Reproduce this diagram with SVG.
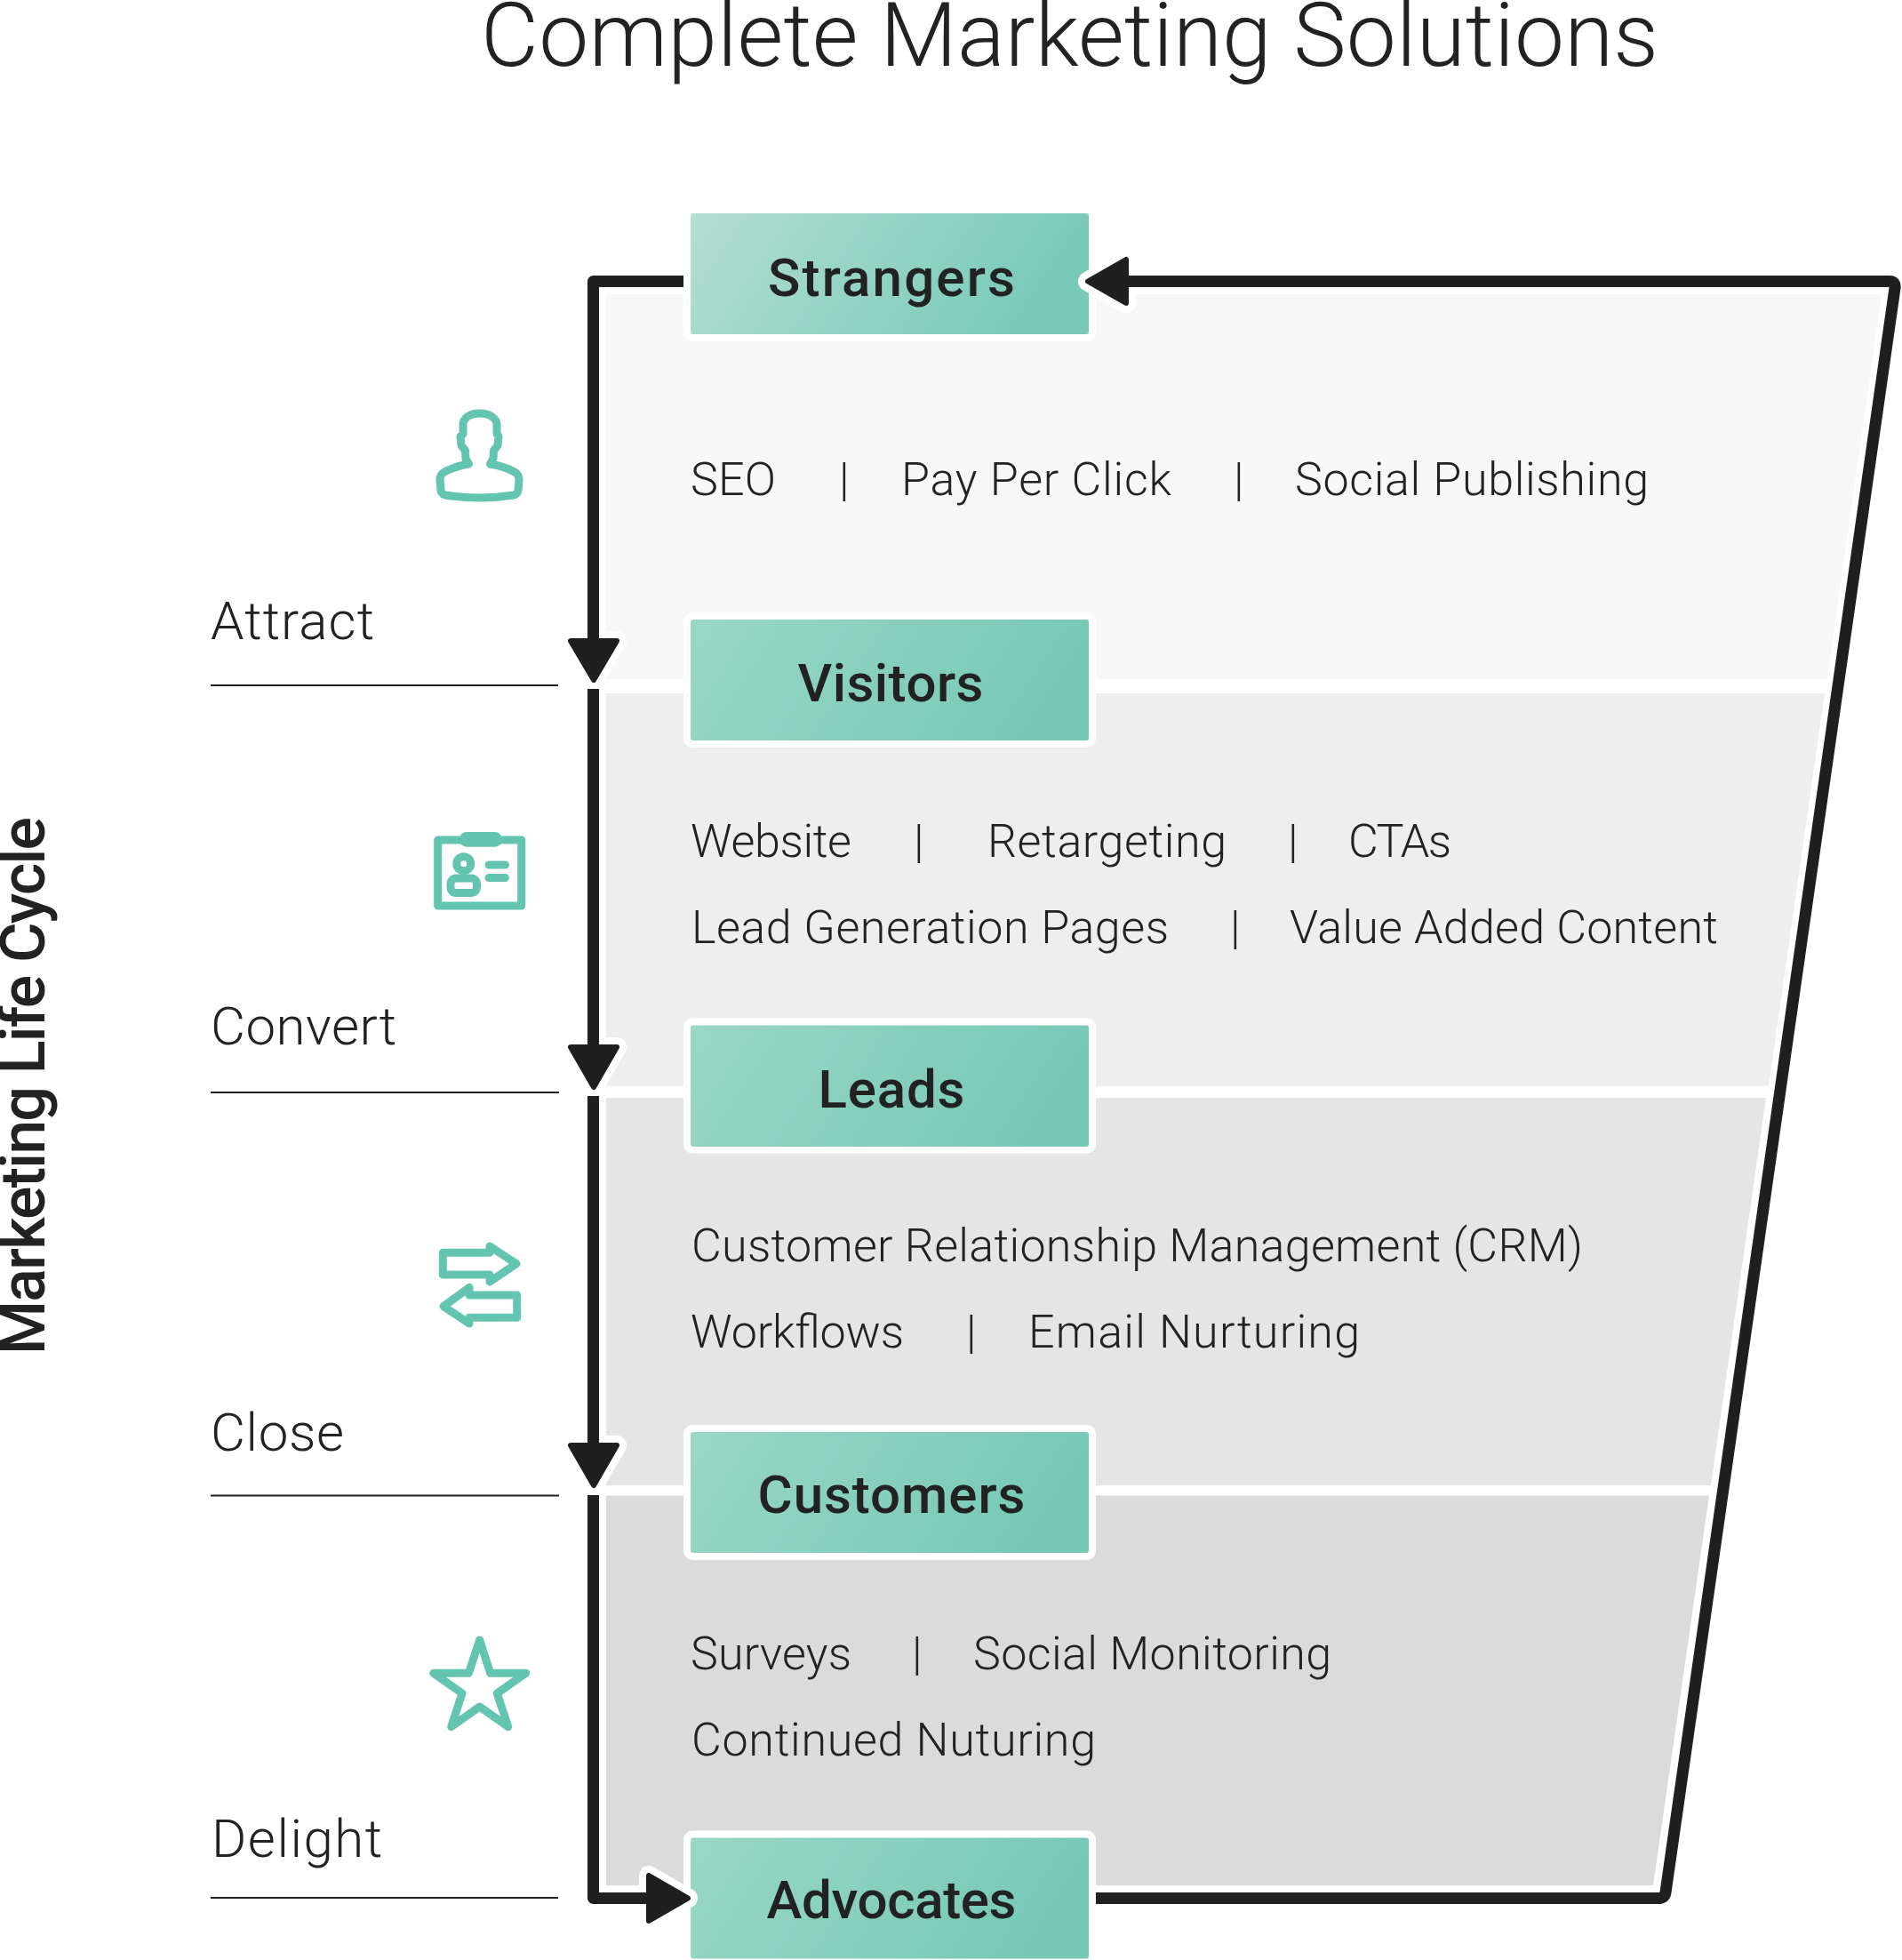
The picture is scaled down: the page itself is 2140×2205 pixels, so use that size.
<svg xmlns="http://www.w3.org/2000/svg" width="2140" height="2205" viewBox="0 0 2140 2205">
<style>
text{font-family:"Roboto","Liberation Sans",sans-serif;fill:#222}
.title{font-size:100px;font-weight:300}
.body{font-size:52px;font-weight:300}
.stage{font-size:60px;font-weight:300}
.box{font-size:60px;font-weight:500;text-anchor:middle}
.side{font-size:70px;font-weight:500}
.line{fill:none;stroke:#1f1f1f;stroke-width:13;stroke-linejoin:round}
.rule{stroke:#1f1f1f;stroke-width:2}
.halo{fill:#fff;stroke:#fff;stroke-width:22;stroke-linejoin:round}
.head{fill:#1f1f1f;stroke:#1f1f1f;stroke-width:6;stroke-linejoin:round}
.boxhalo{fill:#fff}
.icon{fill:none;stroke:#63c5b0;stroke-width:9;stroke-linejoin:round;stroke-linecap:round}
</style>
<defs>
<linearGradient id="g1" x1="0" y1="0" x2="1" y2="0.2"><stop offset="0" stop-color="#b3dfd3"/><stop offset="1" stop-color="#78c9b6"/></linearGradient>
<linearGradient id="g2" x1="0" y1="0" x2="1" y2="0.2"><stop offset="0" stop-color="#9ad7c6"/><stop offset="1" stop-color="#76c9b5"/></linearGradient>
</defs>
<rect width="2140" height="2205" fill="#fff"/>
<text class="title" x="541" y="74" textLength="1325" lengthAdjust="spacing">Complete Marketing Solutions</text>
<text class="side" transform="translate(50 1524) rotate(-90)" textLength="605" lengthAdjust="spacing">Marketing Life Cycle</text>
<g id="panels">
<polygon points="682,331 2117,331 2056,764 682,764" fill="#f7f7f7"/>
<polygon points="682,780 2053,780 1990,1222 682,1222" fill="#eeeeee"/>
<polygon points="682,1235 1987,1235 1925,1671 682,1671" fill="#e5e5e5"/>
<polygon points="682,1682.500 1923,1682.500 1860,2121 682,2121" fill="#dbdbdb"/>
</g>
<g id="stage-labels">
<text class="stage" x="237" y="719" textLength="184" lengthAdjust="spacing">Attract</text>
<line class="rule" x1="237" y1="771" x2="628" y2="771"/>
<text class="stage" x="237" y="1175" textLength="209" lengthAdjust="spacing">Convert</text>
<line class="rule" x1="237" y1="1229" x2="629" y2="1229"/>
<text class="stage" x="237" y="1632" textLength="150" lengthAdjust="spacing">Close</text>
<line class="rule" x1="237" y1="1682.500" x2="629" y2="1682.500"/>
<text class="stage" x="238" y="2089" textLength="192" lengthAdjust="spacing">Delight</text>
<line class="rule" x1="237" y1="2135" x2="628" y2="2135"/>
</g>
<g id="icons">
<path id="icon-user" class="icon" d="M521 478C521 470 529 465 539.5 465C550 465 559 470 559 478V488L561 491L560 501L555.5 507L555 516L551.5 522C563 524 572 527 579 531C583 533 584 536 584 540L583 551C583 554 581 556 578 557C565 559 552 560 539.5 560C527 560 514 559 501 557C498 556 496 554 496 551L495 540C495 536 496 533 500 531C507 527 516 524 527.5 522L524 516L523.500 507L519 501L518 491L521 488Z"/>
<g id="icon-card">
<rect class="icon" x="492.700" y="945" width="94" height="74"/>
<rect x="516.700" y="936" width="48.300" height="16.700" rx="8.300" fill="#63c5b0"/>
<circle class="icon" cx="521.700" cy="971.700" r="8"/>
<rect class="icon" x="507" y="988" width="29.500" height="16.500" rx="6"/>
<path class="icon" d="M550 973H568.500M550 987.500H568.500"/>
</g>
<path id="icon-arrow-right" class="icon" d="M498.300 1409.300H551V1402L581 1421.700L551 1442V1434H498.300Z"/>
<path id="icon-arrow-left" class="icon" d="M581.700 1457H528V1448.300L499 1469.700L528 1489V1482.300H581.700Z"/>
<path id="icon-star" class="icon" stroke-width="8" d="M539.700 1845L551.700 1882.300H591.700L559.300 1905L571.700 1942.700L539.700 1920L507.700 1942.700L520 1905L487.700 1882.300H527.300Z"/>
</g>
<g id="node-strangers">
<rect class="boxhalo" x="769" y="232" width="464" height="152" rx="10"/>
<rect x="777" y="240" width="448" height="136" rx="3" fill="url(#g1)"/>
<text class="box" x="1003" y="333" textLength="278" lengthAdjust="spacing">Strangers</text>
</g>
<g id="node-visitors">
<rect class="boxhalo" x="769" y="689" width="464" height="152" rx="10"/>
<rect x="777" y="697" width="448" height="136" rx="3" fill="url(#g2)"/>
<text class="box" x="1002" y="789" textLength="209" lengthAdjust="spacing">Visitors</text>
</g>
<g id="node-leads">
<rect class="boxhalo" x="769" y="1145.500" width="464" height="152" rx="10"/>
<rect x="777" y="1153.500" width="448" height="136.500" rx="3" fill="url(#g2)"/>
<text class="box" x="1003" y="1246" textLength="165" lengthAdjust="spacing">Leads</text>
</g>
<g id="node-customers">
<rect class="boxhalo" x="769" y="1603" width="464" height="152" rx="10"/>
<rect x="777" y="1611" width="448" height="136" rx="3" fill="url(#g2)"/>
<text class="box" x="1003" y="1702" textLength="301" lengthAdjust="spacing">Customers</text>
</g>
<g id="node-advocates">
<rect class="boxhalo" x="769" y="2059.500" width="464" height="152" rx="10"/>
<rect x="777" y="2067.500" width="448" height="136" rx="3" fill="url(#g2)"/>
<text class="box" x="1003" y="2158" textLength="281" lengthAdjust="spacing">Advocates</text>
</g>
<g id="connectors">
<polygon class="halo" points="642,721 694,721 668,765"/>
<polygon class="halo" points="642,1178 694,1178 668,1223"/>
<polygon class="halo" points="642,1626 694,1626 668,1671"/>
<polygon class="halo" points="730,2110 730,2161 774,2135.500"/>
<polygon class="halo" points="1267,292 1267,341 1224,316.500"/>
<path class="line" d="M769 316.500H667.500V745"/>
<path class="line" d="M667.500 775V1200"/>
<path class="line" d="M667.500 1233V1650"/>
<path class="line" d="M667.500 1682V2135.500H750"/>
<path class="line" d="M1233 2135.500H1866Q1873 2135.500 1874 2129L2132 324Q2133 316.500 2126 316.500H1250"/>
<polygon class="head" points="642,721 694,721 668,765"/>
<polygon class="head" points="642,1178 694,1178 668,1223"/>
<polygon class="head" points="642,1626 694,1626 668,1671"/>
<polygon class="head" points="730,2110 730,2161 774,2135.500"/>
<polygon class="head" points="1267,292 1267,341 1224,316.500"/>
</g>
<g id="items">
<text class="body" x="777" y="557" textLength="96" lengthAdjust="spacing">SEO</text>
<text class="body" x="944" y="557">|</text>
<text class="body" x="1014" y="557" textLength="304" lengthAdjust="spacing">Pay Per Click</text>
<text class="body" x="1388" y="557">|</text>
<text class="body" x="1457" y="557" textLength="398" lengthAdjust="spacing">Social Publishing</text>
<text class="body" x="777" y="964" textLength="181" lengthAdjust="spacing">Website</text>
<text class="body" x="1028" y="964">|</text>
<text class="body" x="1111" y="964" textLength="269" lengthAdjust="spacing">Retargeting</text>
<text class="body" x="1449" y="964">|</text>
<text class="body" x="1517" y="964" textLength="116" lengthAdjust="spacing">CTAs</text>
<text class="body" x="778" y="1061" textLength="537" lengthAdjust="spacing">Lead Generation Pages</text>
<text class="body" x="1384" y="1061">|</text>
<text class="body" x="1451" y="1061" textLength="482" lengthAdjust="spacing">Value Added Content</text>
<text class="body" x="778" y="1419" textLength="1003" lengthAdjust="spacing">Customer Relationship Management (CRM)</text>
<text class="body" x="777" y="1516" textLength="240" lengthAdjust="spacing">Workflows</text>
<text class="body" x="1087" y="1516">|</text>
<text class="body" x="1157" y="1516" textLength="373" lengthAdjust="spacing">Email Nurturing</text>
<text class="body" x="777" y="1878" textLength="181" lengthAdjust="spacing">Surveys</text>
<text class="body" x="1026" y="1878">|</text>
<text class="body" x="1095" y="1878" textLength="403" lengthAdjust="spacing">Social Monitoring</text>
<text class="body" x="778" y="1975" textLength="455" lengthAdjust="spacing">Continued Nuturing</text>
</g>
</svg>
